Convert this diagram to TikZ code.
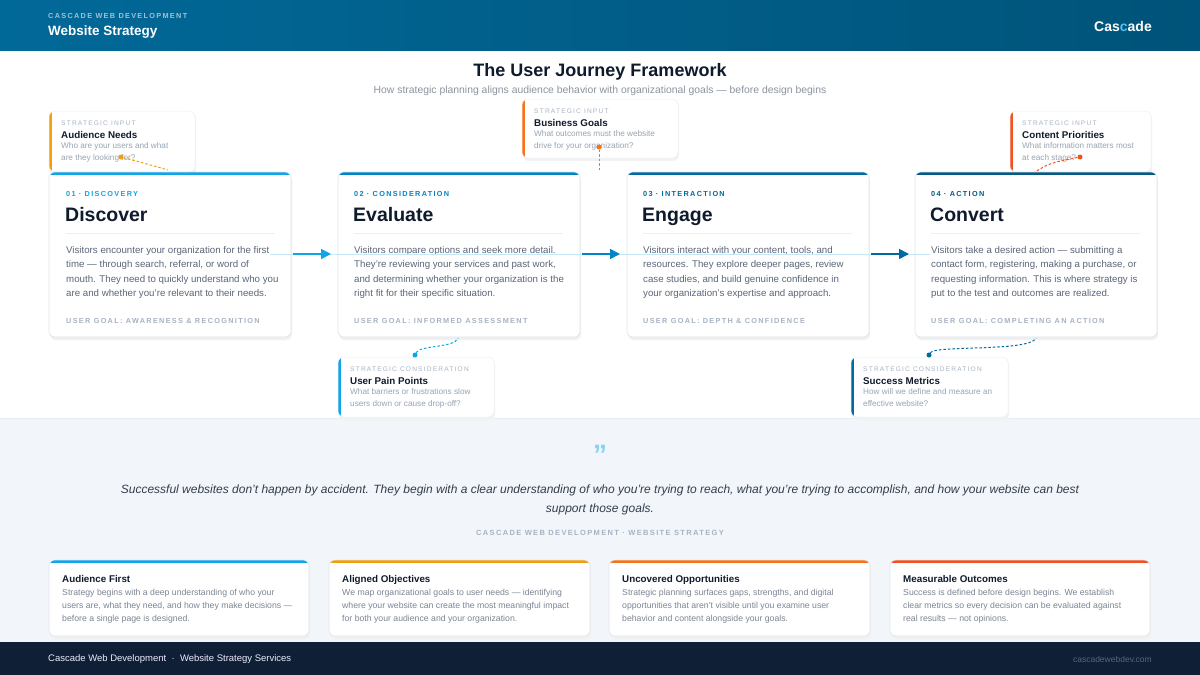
\documentclass[tikz,border=0pt]{standalone}
\usepackage{fontspec}
\setmainfont{Liberation Sans}
\newfontfamily\spaced[LetterSpace=18]{Liberation Sans}
\usetikzlibrary{arrows.meta}
\definecolor{hdr}{HTML}{00628F}
\definecolor{hdrtxt}{HTML}{9CC3DA}
\definecolor{ink}{HTML}{0F1B2D}
\definecolor{body}{HTML}{5B6678}
\definecolor{muted}{HTML}{A7B3C2}
\definecolor{sky}{HTML}{0EA5E9}
\definecolor{blue2}{HTML}{0284C7}
\definecolor{blue3}{HTML}{0369A1}
\definecolor{blue4}{HTML}{075985}
\definecolor{amber}{HTML}{F59E0B}
\definecolor{orng}{HTML}{F97316}
\definecolor{redo}{HTML}{F4511E}
\definecolor{edge}{HTML}{DCE6EF}
\definecolor{lowbg}{HTML}{F2F6FA}
\definecolor{foot}{HTML}{0F1F35}
\newcommand\cardbox[5]{%
  \fill[black!6,rounded corners=6pt] (#1+1,#2+2) rectangle (#3+1,#4+3);
  \fill[white,rounded corners=6pt] (#1,#2) rectangle (#3,#4);
  \begin{scope}
    \clip[rounded corners=6pt] (#1,#2) rectangle (#3,#4);
    \fill[#5] (#1,#2) rectangle (#3,#2+3);
  \end{scope}
  \draw[edge,rounded corners=6pt,line width=0.6pt] (#1,#2) rectangle (#3,#4);}
\newcommand\sidecard[5]{%
  \fill[black!5,rounded corners=6pt] (#1+1,#2+2) rectangle (#3+1,#4+3);
  \fill[white,rounded corners=6pt] (#1,#2) rectangle (#3,#4);
  \begin{scope}
    \clip[rounded corners=6pt] (#1,#2) rectangle (#3,#4);
    \fill[#5] (#1,#2) rectangle (#1+3,#4);
  \end{scope}
  \draw[edge!60,rounded corners=6pt,line width=0.5pt] (#1,#2) rectangle (#3,#4);}
\tikzset{
  lbl/.style={anchor=west,inner sep=0,font=\spaced\fontsize{7.3}{9}\selectfont\bfseries},
  ttl/.style={anchor=base west,inner sep=0,text=ink,font=\fontsize{19.5}{21}\selectfont\bfseries},
  bodyt/.style={anchor=north west,inner sep=0,text=body,align=left,font=\fontsize{9.7}{14.4}\selectfont},
  goal/.style={anchor=west,inner sep=0,text=muted,font=\spaced\fontsize{7.3}{9}\selectfont\bfseries},
  slbl/.style={anchor=west,inner sep=0,text=muted,font=\spaced\fontsize{6.6}{8}\selectfont},
  sttl/.style={anchor=base west,inner sep=0,text=ink,font=\fontsize{9.8}{11}\selectfont\bfseries},
  sdesc/.style={anchor=north west,inner sep=0,text=muted!80!body,align=left,font=\fontsize{8.2}{12.3}\selectfont},
  dot/.style={circle,inner sep=0,minimum size=5pt,fill=#1},
  link/.style={dashed,dash pattern=on 2.5pt off 2pt,line width=1pt,draw=#1},
  flow/.style={line width=1.6pt,draw=#1,-{Triangle[length=10pt,width=10pt]}},
  btitle/.style={anchor=base west,inner sep=0,text=ink,font=\fontsize{9.8}{11}\selectfont\bfseries},
  bdesc/.style={anchor=north west,inner sep=0,text=body!80,align=left,font=\fontsize{8.7}{13.2}\selectfont},
}
\begin{document}
\begin{tikzpicture}[x=1pt,y=-1pt]
\useasboundingbox (0,0) rectangle (1200,675);
\fill[white] (0,0) rectangle (1200,675);
% header
\shade[left color=hdr!90!sky,right color=hdr!85!black] (0,0) rectangle (1200,50);
\node[anchor=west,inner sep=0,text=hdrtxt,font=\spaced\fontsize{7.3}{9}\selectfont\bfseries] (brand) at (48,16) {CASCADE WEB DEVELOPMENT};
\node[anchor=west,inner sep=0,text=white,font=\fontsize{13.5}{15}\selectfont\bfseries] (hdrtitle) at (48,32) {Website Strategy};
\node[anchor=east,inner sep=0,text=white,font=\fontsize{14}{15}\selectfont\bfseries] (logo) at (1152,26) {Cas\textcolor{sky!70}{c}ade};
% title
\node[inner sep=0,text=ink,font=\fontsize{18}{20}\selectfont\bfseries] (title) at (600,72) {The User Journey Framework};
\node[inner sep=0,text=body!70,font=\fontsize{10.4}{12}\selectfont] (sub) at (600,91) {How strategic planning aligns audience behavior with organizational goals — before design begins};
% lower bg
\fill[lowbg] (0,418) rectangle (1200,642);
\draw[edge!70] (0,418) -- (1200,418);
% side cards
\sidecard{49}{111}{195}{172}{amber}
\node[slbl] (l1) at (61,123) {STRATEGIC INPUT};
\node[sttl] (t1) at (61,138) {Audience Needs};
\node[sdesc] (d1) at (61,142) {Who are your users and what\\are they looking for?};
\sidecard{522}{99}{678}{158}{orng}
\node[slbl] (l2) at (534,111) {STRATEGIC INPUT};
\node[sttl] (t2) at (534,126) {Business Goals};
\node[sdesc] (d2) at (534,130) {What outcomes must the website\\drive for your organization?};
\sidecard{1010}{111}{1151}{172}{redo}
\node[slbl] (l3) at (1022,123) {STRATEGIC INPUT};
\node[sttl] (t3) at (1022,138) {Content Priorities};
\node[sdesc] (d3) at (1022,142) {What information matters most\\at each stage?};
% stage cards
\cardbox{49}{172}{291}{337}{sky}
\cardbox{338}{172}{580}{337}{blue2}
\cardbox{627}{172}{869}{337}{blue3}
\cardbox{915}{172}{1157}{337}{blue4}
\node[lbl,text=sky] (s1l) at (66,194) {01 · DISCOVERY};
\node[ttl] (s1) at (65,221) {Discover};
\draw[edge!60] (66,233) -- (275,233);
\node[bodyt] (s1b) at (66,246) {Visitors encounter your organization for the first\\time — through search, referral, or word of\\mouth. They need to quickly understand who you\\are and whether you're relevant to their needs.};
\node[goal] (s1g) at (66,321) {USER GOAL: AWARENESS \& RECOGNITION};
\node[lbl,text=blue2] (s2l) at (354,194) {02 · CONSIDERATION};
\node[ttl] (s2) at (353,221) {Evaluate};
\draw[edge!60] (354,233) -- (563,233);
\node[bodyt] (s2b) at (354,246) {Visitors compare options and seek more detail.\\They're reviewing your services and past work,\\and determining whether your organization is the\\right fit for their specific situation.};
\node[goal] (s2g) at (354,321) {USER GOAL: INFORMED ASSESSMENT};
\node[lbl,text=blue3] (s3l) at (643,194) {03 · INTERACTION};
\node[ttl] (s3) at (642,221) {Engage};
\draw[edge!60] (643,233) -- (852,233);
\node[bodyt] (s3b) at (643,246) {Visitors interact with your content, tools, and\\resources. They explore deeper pages, review\\case studies, and build genuine confidence in\\your organization's expertise and approach.};
\node[goal] (s3g) at (643,321) {USER GOAL: DEPTH \& CONFIDENCE};
\node[lbl,text=blue4] (s4l) at (931,194) {04 · ACTION};
\node[ttl] (s4) at (930,221) {Convert};
\draw[edge!60] (931,233) -- (1140,233);
\node[bodyt] (s4b) at (931,246) {Visitors take a desired action — submitting a\\contact form, registering, making a purchase, or\\requesting information. This is where strategy is\\put to the test and outcomes are realized.};
\node[goal] (s4g) at (931,321) {USER GOAL: COMPLETING AN ACTION};
% flow line and arrows
\coordinate (a1s) at (293,254); \coordinate (a1e) at (331,254);
\coordinate (a2s) at (582,254); \coordinate (a2e) at (620,254);
\coordinate (a3s) at (871,254); \coordinate (a3e) at (909,254);
\draw[sky!25,line width=0.8pt] (270,254) -- (930,254);
\draw[flow=sky] (a1s) -- (a1e);
\draw[flow=blue2] (a2s) -- (a2e);
\draw[flow=blue3] (a3s) -- (a3e);
% bottom side cards
\sidecard{338}{357}{494}{417}{sky}
\node[slbl] (l4) at (350,369) {STRATEGIC CONSIDERATION};
\node[sttl] (t4) at (350,384) {User Pain Points};
\node[sdesc] (d4) at (350,388) {What barriers or frustrations slow\\users down or cause drop-off?};
\sidecard{851}{357}{1008}{417}{blue3}
\node[slbl] (l5) at (863,369) {STRATEGIC CONSIDERATION};
\node[sttl] (t5) at (863,384) {Success Metrics};
\node[sdesc] (d5) at (863,388) {How will we define and measure an\\effective website?};
% links
\node[dot=amber] (p1) at (121,157) {};
\coordinate (q1) at (168,170);
\draw[link=amber] (p1) .. controls (140,162) .. (q1);
\node[dot=orng] (p2) at (599,147) {};
\coordinate (q2) at (599,170);
\draw[link=orng] (p2) -- (q2);
\node[dot=redo] (p3) at (1080,157) {};
\coordinate (q3) at (1035,172);
\draw[link=redo] (p3) .. controls (1050,163) .. (q3);
\node[dot=sky] (p4) at (415,355) {};
\coordinate (q4) at (458,338);
\draw[link=sky] (p4) .. controls (420,345) and (455,348) .. (q4);
\node[dot=blue3] (p5) at (929,355) {};
\coordinate (q5) at (1036,338);
\draw[link=blue3] (p5) .. controls (935,345) and (1030,352) .. (q5);
% quote
\node[inner sep=0,text=sky!50,font=\fontsize{28}{28}\selectfont\bfseries] (qm) at (600,455) {"};
\node[inner sep=0,text=ink!85,align=center,font=\fontsize{12}{19}\selectfont\itshape] (quote) at (600,500) {Successful websites don't happen by accident. They begin with a clear understanding of who you're trying to reach, what you're trying to accomplish, and how your website can best\\support those goals.};
\node[inner sep=0,text=muted,font=\spaced\fontsize{7.5}{9}\selectfont\bfseries] (attr) at (600,533) {CASCADE WEB DEVELOPMENT · WEBSITE STRATEGY};
% bottom cards
\cardbox{49}{560}{309}{636}{sky}
\cardbox{329}{560}{590}{636}{amber}
\cardbox{609}{560}{870}{636}{orng}
\cardbox{890}{560}{1150}{636}{redo}
\node[btitle] (b1) at (62,582) {Audience First};
\node[bdesc] (b1d) at (62,589) {Strategy begins with a deep understanding of who your\\users are, what they need, and how they make decisions —\\before a single page is designed.};
\node[btitle] (b2) at (342,582) {Aligned Objectives};
\node[bdesc] (b2d) at (342,589) {We map organizational goals to user needs — identifying\\where your website can create the most meaningful impact\\for both your audience and your organization.};
\node[btitle] (b3) at (622,582) {Uncovered Opportunities};
\node[bdesc] (b3d) at (622,589) {Strategic planning surfaces gaps, strengths, and digital\\opportunities that aren't visible until you examine user\\behavior and content alongside your goals.};
\node[btitle] (b4) at (903,582) {Measurable Outcomes};
\node[bdesc] (b4d) at (903,589) {Success is defined before design begins. We establish\\clear metrics so every decision can be evaluated against\\real results — not opinions.};
% footer
\fill[foot] (0,642) rectangle (1200,675);
\node[anchor=west,inner sep=0,text=white!92!blue,font=\fontsize{9.5}{11}\selectfont] (f1) at (48,659) {Cascade Web Development \ · \ Website Strategy Services};
\node[anchor=east,inner sep=0,text=body,font=\fontsize{8.5}{10}\selectfont] (f2) at (1152,659) {cascadewebdev.com};
\end{tikzpicture}
\end{document}
